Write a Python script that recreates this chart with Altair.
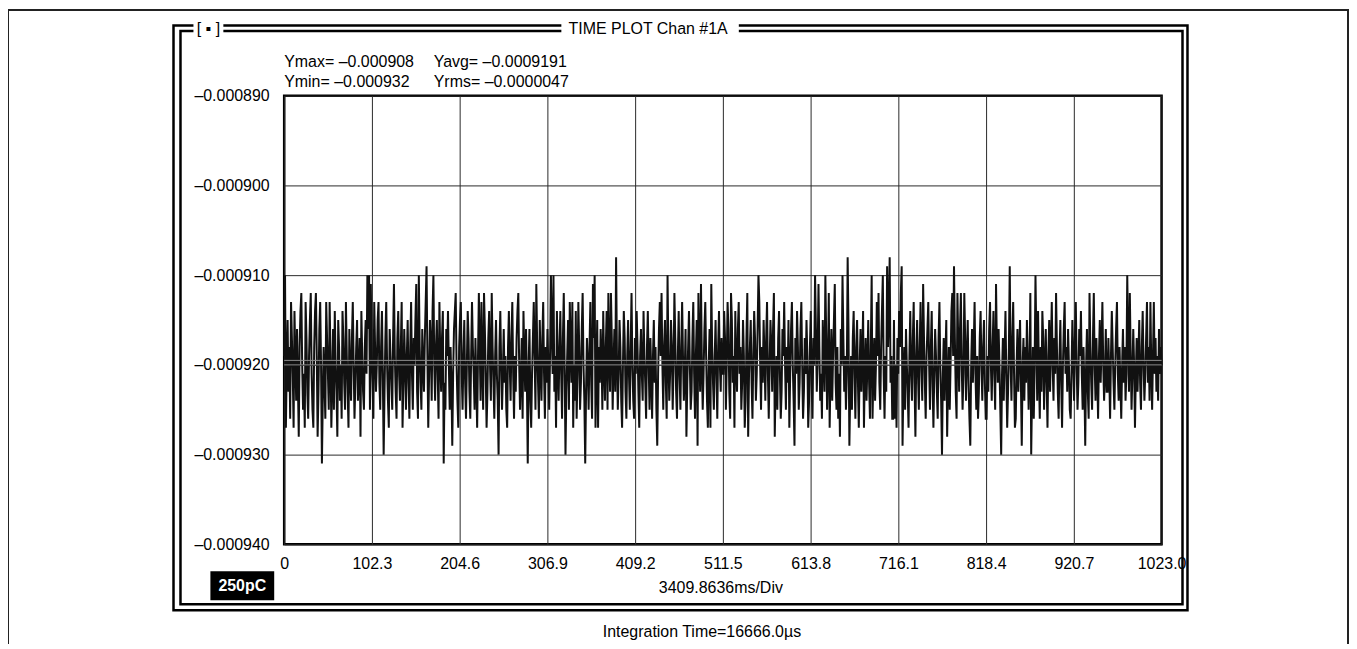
import altair as alt
import pandas as pd

# ---------------- data (values in millionths, i.e. 1e-6 units) ----------------
Y_MICRO_1 = [
    -919, -910, -927, -920, -915, -923, -918, -926, -913, -917, -921, -927, -914, -919, -924, -916,
    -922, -928, -918, -914, -912, -920, -925, -921, -927, -913, -917, -923, -926, -919, -915, -912,
    -921, -925, -927, -918, -914, -912, -919, -928, -923, -916, -913, -920, -931, -924, -918, -922,
    -926, -913, -917, -921, -925, -913, -919, -927, -922, -916, -925, -914, -920, -923, -928, -915,
    -918, -924, -920, -926, -914, -917, -922, -925, -913, -919, -923, -927, -916, -921, -924, -917,
    -913, -920, -926, -922, -918, -915, -924, -921, -917, -928, -914, -919, -923, -925, -918, -915,
    -921, -910, -916, -910, -925, -911, -919, -922, -926, -913, -918, -923, -920, -915, -913, -922,
    -925, -918, -914, -921, -930, -923, -917, -913, -920, -924, -927, -916, -919, -922, -925, -917,
]
Y_MICRO_2 = [
    -911, -919, -923, -926, -917, -914, -921, -924, -918, -913, -927, -922, -916, -920, -925, -919,
    -915, -922, -926, -918, -913, -921, -925, -917, -920, -915, -911, -923, -926, -910, -918, -922,
    -925, -916, -920, -923, -917, -913, -909, -919, -927, -921, -915, -918, -924, -914, -910, -920,
    -924, -918, -915, -921, -926, -913, -919, -923, -917, -914, -931, -922, -925, -916, -919, -914,
    -920, -925, -918, -922, -929, -921, -916, -914, -912, -920, -924, -927, -918, -915, -913, -921,
    -925, -919, -915, -922, -926, -920, -914, -917, -923, -926, -919, -913, -918, -921, -925, -917,
    -922, -927, -919, -912, -918, -924, -913, -920, -925, -912, -916, -921, -927, -923, -917, -914,
    -920, -924, -912, -918, -922, -926, -919, -915, -921, -924, -930, -918, -914, -920, -925, -921,
]
Y_MICRO_3 = [
    -916, -922, -919, -925, -927, -918, -914, -920, -924, -917, -913, -921, -926, -919, -923, -917,
    -914, -912, -920, -925, -921, -917, -926, -914, -919, -923, -916, -922, -931, -920, -916, -924,
    -927, -921, -917, -913, -919, -925, -911, -918, -922, -926, -915, -920, -924, -917, -913, -921,
    -926, -918, -922, -916, -920, -925, -919, -910, -916, -921, -910, -923, -919, -927, -914, -920,
    -924, -918, -914, -921, -926, -917, -912, -920, -930, -923, -919, -915, -925, -913, -918, -922,
    -913, -927, -920, -924, -914, -926, -921, -913, -918, -925, -922, -916, -912, -920, -924, -931,
    -923, -917, -920, -925, -918, -913, -922, -926, -911, -917, -910, -927, -921, -915, -927, -918,
    -922, -916, -919, -925, -914, -920, -924, -918, -914, -925, -912, -919, -923, -912, -917, -925,
]
Y_MICRO_4 = [
    -920, -916, -923, -908, -919, -925, -921, -915, -918, -924, -927, -920, -914, -917, -923, -926,
    -919, -915, -921, -925, -918, -912, -920, -924, -926, -917, -921, -914, -918, -923, -927, -919,
    -916, -921, -924, -914, -919, -922, -926, -918, -914, -920, -925, -917, -921, -926, -919, -915,
    -922, -918, -925, -929, -921, -916, -913, -919, -912, -920, -925, -918, -915, -922, -926, -910,
    -919, -924, -921, -915, -918, -925, -920, -912, -917, -923, -926, -919, -914, -921, -925, -918,
    -913, -919, -924, -921, -916, -928, -922, -918, -914, -920, -925, -923, -917, -913, -921, -926,
    -919, -915, -929, -912, -918, -923, -911, -920, -925, -921, -916, -913, -919, -924, -927, -920,
    -916, -927, -911, -918, -922, -925, -919, -915, -921, -926, -918, -914, -920, -923, -917, -921,
]
Y_MICRO_5 = [
    -921, -914, -917, -925, -920, -913, -916, -923, -926, -912, -915, -922, -919, -927, -914, -920,
    -923, -916, -913, -921, -918, -925, -922, -915, -919, -927, -924, -917, -912, -928, -921, -918,
    -915, -922, -926, -919, -914, -917, -924, -921, -916, -910, -913, -920, -925, -918, -922, -915,
    -919, -924, -917, -913, -921, -926, -920, -915, -918, -923, -916, -912, -928, -922, -919, -925,
    -917, -914, -921, -926, -923, -916, -919, -913, -920, -925, -918, -922, -915, -927, -921, -916,
    -913, -920, -924, -929, -917, -921, -914, -918, -925, -922, -916, -913, -920, -926, -923, -917,
    -921, -915, -919, -927, -924, -918, -914, -922, -926, -917, -920, -910, -916, -923, -919, -911,
    -918, -924, -921, -926, -915, -919, -923, -910, -917, -925, -920, -912, -927, -921, -916, -924,
]
Y_MICRO_6 = [
    -919, -915, -911, -922, -925, -918, -926, -921, -928, -916, -920, -910, -917, -923, -919, -925,
    -921, -908, -916, -929, -923, -919, -925, -917, -914, -921, -926, -918, -915, -922, -927, -920,
    -916, -923, -919, -914, -927, -921, -917, -924, -920, -915, -922, -926, -918, -910, -926, -921,
    -917, -924, -920, -913, -919, -912, -922, -925, -918, -914, -910, -921, -926, -919, -923, -909,
    -918, -914, -908, -922, -919, -926, -926, -915, -926, -920, -927, -917, -921, -914, -918, -912,
    -909, -929, -922, -918, -925, -916, -920, -923, -927, -919, -914, -921, -924, -917, -913, -922,
    -928, -919, -915, -921, -925, -918, -913, -920, -924, -911, -917, -922, -926, -919, -916, -913,
    -920, -925, -918, -914, -922, -927, -921, -916, -919, -923, -926, -917, -913, -920, -924, -930,
]
Y_MICRO_7 = [
    -921, -917, -924, -919, -915, -928, -922, -918, -925, -920, -914, -912, -919, -909, -917, -923,
    -926, -912, -918, -923, -916, -912, -920, -925, -921, -912, -917, -924, -919, -915, -922, -926,
    -929, -920, -916, -922, -918, -913, -921, -925, -919, -926, -923, -917, -914, -920, -924, -918,
    -915, -922, -926, -926, -919, -923, -916, -913, -920, -924, -918, -914, -921, -925, -911, -918,
    -922, -916, -920, -925, -930, -921, -917, -924, -919, -914, -921, -927, -923, -918, -909, -920,
    -924, -917, -913, -921, -927, -926, -920, -916, -923, -919, -915, -922, -929, -920, -917, -924,
    -918, -922, -915, -919, -925, -921, -912, -930, -923, -918, -926, -920, -910, -917, -924, -914,
    -921, -926, -918, -923, -914, -917, -925, -920, -916, -922, -927, -919, -915, -923, -918, -913,
]
Y_MICRO_8 = [
    -920, -924, -917, -921, -912, -918, -923, -926, -919, -915, -922, -927, -920, -916, -913, -921,
    -918, -923, -916, -920, -925, -926, -921, -915, -919, -924, -917, -913, -920, -925, -922, -916,
    -919, -914, -921, -925, -918, -922, -929, -920, -916, -923, -926, -912, -918, -922, -925, -917,
    -912, -920, -924, -917, -921, -926, -919, -915, -922, -918, -913, -920, -924, -921, -916, -923,
    -923, -917, -921, -926, -919, -914, -918, -922, -925, -920, -916, -913, -921, -924, -918, -922,
    -926, -920, -916, -922, -918, -924, -921, -910, -917, -923, -912, -919, -925, -921, -916, -920,
    -927, -921, -917, -923, -919, -915, -922, -925, -918, -914, -920, -924, -921, -917, -913, -922,
    -918, -924, -913, -920, -925, -919, -913, -921, -917, -923, -919, -924, -916, -921, -918, -920,
]

X_TICKS = [0, 102.3, 204.6, 306.9, 409.2, 511.5, 613.8, 716.1, 818.4, 920.7, 1023.0]
Y_TICKS = [-0.000940, -0.000930, -0.000920, -0.000910, -0.000900, -0.000890]
AVG_LINES = [-0.0009195, -0.000920]

TITLE = "TIME PLOT  Chan #1A"
STATS_LEFT = ["Ymax= \u20130.000908", "Ymin= \u20130.000932"]
STATS_RIGHT = ["Yavg= \u20130.0009191", "Yrms= \u20130.0000047"]
RANGE_LABEL = "250pC"
X_LABEL = "3409.8636ms/Div"
FOOTER = "Integration Time=16666.0\u00b5s"

micro = Y_MICRO_1 + Y_MICRO_2 + Y_MICRO_3 + Y_MICRO_4 + Y_MICRO_5 + Y_MICRO_6 + Y_MICRO_7 + Y_MICRO_8
df = pd.DataFrame({"i": list(range(len(micro))), "v": [m * 1e-6 for m in micro]})

FONT = "Liberation Sans"
FS = 16
W, H = 880, 450

xs = alt.Scale(domain=[0, 1023], nice=False, zero=False)
ys = alt.Scale(domain=[-0.000940, -0.000890], nice=False, zero=False)

line = alt.Chart(df).mark_line(color="#111111", strokeWidth=2.0).encode(
    x=alt.X("i:Q", scale=xs, axis=alt.Axis(
        values=X_TICKS, title=None, grid=True, ticks=False, domain=False,
        labelExpr="datum.value == 0 ? '0' : format(datum.value, '.1f')",
        labelFlush=False, labelPadding=11, labelFontSize=FS, labelFont=FONT,
        labelColor="black", gridColor="#2a2a2a", gridWidth=1, gridOpacity=1)),
    y=alt.Y("v:Q", scale=ys, axis=alt.Axis(
        values=Y_TICKS, title=None, grid=True, ticks=False, domain=False,
        labelExpr="'\u2013' + format(abs(datum.value), '.6f')",
        labelPadding=15, labelFontSize=FS, labelFont=FONT, labelColor="black",
        gridColor="#2a2a2a", gridWidth=1, gridOpacity=1)),
)

avg = alt.Chart(pd.DataFrame({"a": AVG_LINES})).mark_rule(color="#8c8c8c", strokeWidth=1).encode(
    y=alt.Y("a:Q", scale=ys)
)

one = alt.Data(values=[{"k": 1}])


def rule(x, x2, y, y2, w=2, color="black"):
    return alt.Chart(one).mark_rule(color=color, strokeWidth=w).encode(
        x=alt.value(x), x2=alt.value(x2), y=alt.value(y), y2=alt.value(y2))


def box(x, x2, y, y2, fill):
    return alt.Chart(one).mark_rect(fill=fill, stroke=None).encode(
        x=alt.value(x), x2=alt.value(x2), y=alt.value(y), y2=alt.value(y2))


def frame(x, x2, y, y2, w=2.5):
    return alt.Chart(one).mark_rect(filled=False, stroke="black", strokeWidth=w).encode(
        x=alt.value(x), x2=alt.value(x2), y=alt.value(y), y2=alt.value(y2))


def label(txt, x, y, align="left", color="black", bold=False, size=FS):
    return alt.Chart(one).mark_text(
        text=txt, align=align, baseline="middle", font=FONT, fontSize=size,
        color=color, fontWeight="bold" if bold else "normal").encode(
        x=alt.value(x), y=alt.value(y))


deco = [
    # outer page box (left, top, right)
    rule(-277, -277, -87, 560, w=2, color="#222"),
    rule(1067, 1067, -87, 560, w=2, color="#222"),
    rule(-277, 1067, -86, -86, w=2, color="#222"),
    # double frame
    frame(-111, 906, -70.5, 516),
    frame(-104, 901, -65, 510),
    # title gaps and text
    box(-91, -61, -77, -57, "white"),
    box(278, 456, -77, -57, "white"),
    label("[ \u25aa ]", -76, -67, align="center"),
    label(TITLE, 365, -67, align="center"),
    # stats
    label(STATS_LEFT[0], 0, -34),
    label(STATS_LEFT[1], 0, -14),
    label(STATS_RIGHT[0], 150, -34),
    label(STATS_RIGHT[1], 150, -14),
    # range badge
    box(-74, -10, 477, 506, "black"),
    label(RANGE_LABEL, -42, 492, align="center", color="white", bold=True),
    # axis caption and footer
    label(X_LABEL, 438, 494, align="center"),
    label(FOOTER, 419, 538, align="center"),
]

chart = alt.layer(line, avg, *deco).properties(
    width=W, height=H,
    autosize=alt.AutoSizeParams(type="none"),
    padding={"left": 277, "top": 87, "right": 188, "bottom": 99},
    background="white",
).configure_view(stroke="black", strokeWidth=2.5)

chart.save("out.html", embed_options={"renderer": "svg", "actions": False})
